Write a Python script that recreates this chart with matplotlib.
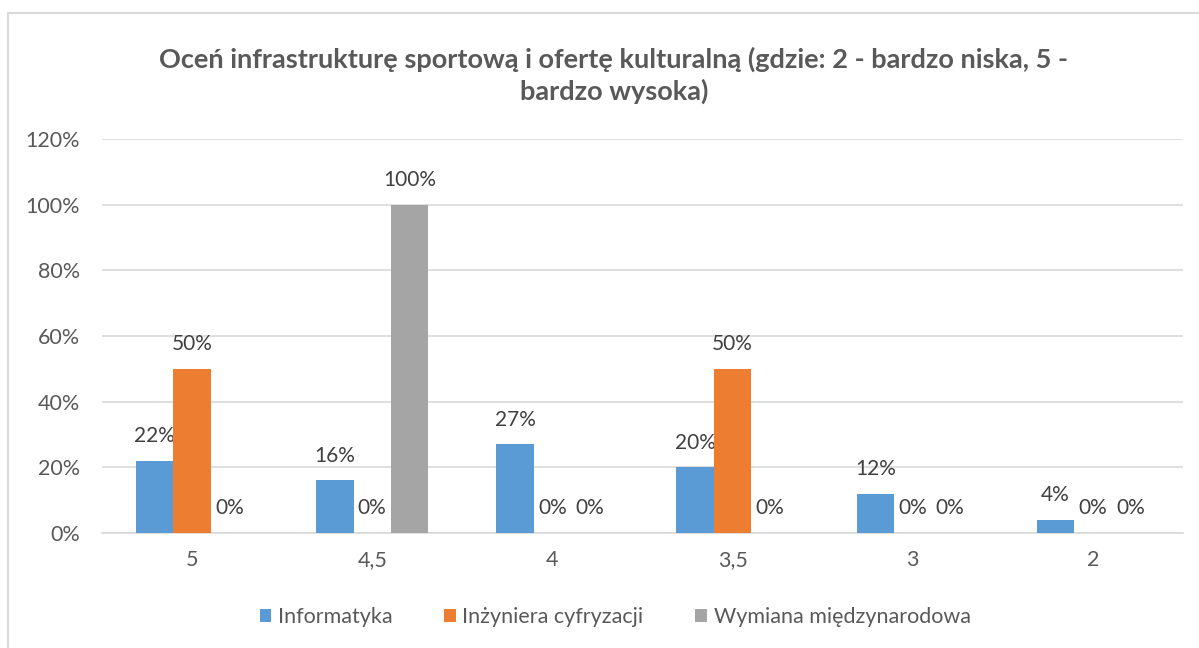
import matplotlib
matplotlib.use("Agg")
import matplotlib.pyplot as plt
from matplotlib.lines import Line2D
from matplotlib.patches import Patch

plt.rcParams['font.family'] = ['Lato', 'DejaVu Sans']

title = "Oceń infrastrukturę sportową i ofertę kulturalną (gdzie: 2 - bardzo niska, 5 -\nbardzo wysoka)"
categories = ["5", "4,5", "4", "3,5", "3", "2"]
series_names = ["Informatyka", "Inżyniera cyfryzacji", "Wymiana międzynarodowa"]
informatyka = [22, 16, 27, 20, 12, 4]
inzyniera = [50, 0, 0, 50, 0, 0]
wymiana = [0, 100, 0, 0, 0, 0]
colors = ["#5B9BD5", "#ED7D31", "#A5A5A5"]
yticks = [0, 20, 40, 60, 80, 100, 120]

fig = plt.figure(figsize=(11.99, 6.48), dpi=100)
ax = fig.add_axes([102/1199, 115/648, 1081/1199, 394/648])

width = 0.208
offsets = [-width, 0, width]
x = list(range(len(categories)))
for s, (vals, col, off) in enumerate(zip([informatyka, inzyniera, wymiana], colors, offsets)):
    pos = [xi + off for xi in x]
    ax.bar(pos, vals, width=width, color=col, zorder=3, linewidth=0)
    for p, v in zip(pos, vals):
        ax.annotate(f"{v}%", (p, v), xytext=(0, 10.5), textcoords="offset points",
                    ha="center", va="bottom", fontsize=15, color="#404040")

ax.set_xlim(-0.5, len(categories) - 0.5)
ax.set_ylim(0, 120)
ax.set_yticks(yticks)
ax.set_yticklabels([f"{t}%" for t in yticks])
ax.set_xticks(x)
ax.set_xticklabels(categories)
ax.grid(axis="y", color="#D9D9D9", linewidth=1.2, zorder=0)
for sp in ["top", "right", "left"]:
    ax.spines[sp].set_visible(False)
ax.spines["bottom"].set_color("#D9D9D9")
ax.spines["bottom"].set_linewidth(1.2)
ax.tick_params(axis="both", length=0, labelsize=15.5, labelcolor="#595959")
ax.tick_params(axis="y", pad=16)
ax.tick_params(axis="x", pad=12)

fig.text(0.512, 1 - 75/648, title, ha="center", va="center", fontsize=19.5,
         fontweight="bold", color="#595959", linespacing=1.3)

handles = [Patch(facecolor=c, edgecolor="none") for c in colors]
fig.legend(handles, series_names, loc="center", bbox_to_anchor=(0.513, 1 - 617/648),
           ncol=3, frameon=False, fontsize=15.5, labelcolor="#595959",
           handlelength=0.55, handleheight=0.55, handletextpad=0.3, columnspacing=2.4)

fig.add_artist(Line2D([8/1199, 8/1199], [0, 1 - 13/648], transform=fig.transFigure,
                      color="#D9D9D9", linewidth=1.5))
fig.add_artist(Line2D([8/1199, 1], [1 - 13/648, 1 - 13/648], transform=fig.transFigure,
                      color="#D9D9D9", linewidth=1.5))

fig.savefig("out.png", dpi=100)
